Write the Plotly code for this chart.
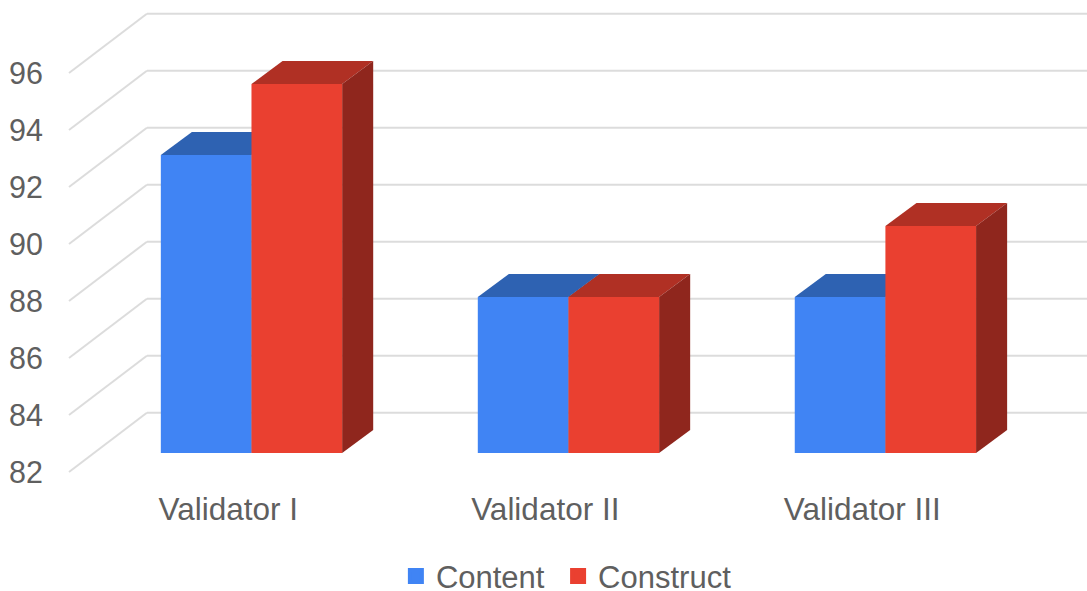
import plotly.graph_objects as go

# Chart data
validators = ["Validator I", "Validator II", "Validator III"]
content_scores = [92.5, 87.5, 87.5]
construct_scores = [95, 87.5, 90]
score_ticks = [82, 84, 86, 88, 90, 92, 94, 96]

# Colours: front face, top face, side face
CONTENT_FACES = ("#4084f4", "#2e62b2", "#24508f")
CONSTRUCT_FACES = ("#ea4030", "#b03024", "#8f261d")
GRID = "#dcdcdc"
TEXT = "#5f5f5f"
TRANSPARENT = "rgba(0,0,0,0)"

# Oblique projection, in axis units
BAR_DX, BAR_DY = 0.098, 0.81
WALL_LEFT, WALL_BACK, WALL_DY = -0.5757, -0.33, 2.08
BAR_W = 0.286
X_RANGE = [-0.6546, 2.636]
LABEL_SHIFT = -0.073


def poly(points):
    return "M" + " L".join(f"{x},{y}" for x, y in points) + " Z"


shapes = []

# Back wall and left wall gridlines
for t in score_ticks:
    back = t + WALL_DY
    shapes.append(dict(type="line", xref="x", yref="y", layer="below",
                       x0=WALL_LEFT, y0=t, x1=WALL_BACK, y1=back,
                       line=dict(color=GRID, width=2)))
    shapes.append(dict(type="line", xref="x", yref="y", layer="below",
                       x0=WALL_BACK, y0=back, x1=X_RANGE[1], y1=back,
                       line=dict(color=GRID, width=2)))


# Top and side faces of each bar, placed on the bar axis
def add_faces(values, offset, faces):
    for i, v in enumerate(values):
        x0 = i + offset
        x1 = x0 + BAR_W
        base = score_ticks[0]
        shapes.append(dict(type="path", xref="x", yref="y2", layer="below",
                           path=poly([(x0, v), (x1, v), (x1 + BAR_DX, v + BAR_DY), (x0 + BAR_DX, v + BAR_DY)]),
                           fillcolor=faces[1], line=dict(width=0)))
        shapes.append(dict(type="path", xref="x", yref="y2", layer="below",
                           path=poly([(x1, base), (x1 + BAR_DX, base + BAR_DY), (x1 + BAR_DX, v + BAR_DY), (x1, v)]),
                           fillcolor=faces[2], line=dict(width=0)))


add_faces(content_scores, -BAR_W, CONTENT_FACES)
add_faces(construct_scores, 0, CONSTRUCT_FACES)

positions = list(range(len(validators)))
fig = go.Figure()
# The no-break space after "Content" widens the gap between the legend entries
for name, label, values, faces in [("Content", "Content\u00a0", content_scores, CONTENT_FACES),
                                   ("Construct", "Construct", construct_scores, CONSTRUCT_FACES)]:
    fig.add_trace(go.Bar(
        name=name,
        x=positions,
        y=[v - score_ticks[0] for v in values],
        base=score_ticks[0],
        yaxis="y2",
        showlegend=False,
        marker=dict(color=faces[0], line=dict(width=0)),
    ))
    # Legend key only: a wider outline gives a larger swatch than the default
    fig.add_trace(go.Bar(
        name=label,
        x=[positions[0]],
        y=[None],
        yaxis="y",
        marker=dict(color=faces[0], line=dict(width=4, color=faces[0])),
    ))

fig.update_layout(
    width=1087,
    height=591,
    margin=dict(l=44, r=0, t=0, b=111),
    paper_bgcolor="white",
    plot_bgcolor="white",
    font=dict(family="Liberation Sans, Arial, sans-serif", size=31.5, color=TEXT),
    barmode="group",
    bargap=1 - 2 * BAR_W,
    bargroupgap=0,
    shapes=shapes,
    xaxis=dict(
        range=X_RANGE,
        tickmode="array",
        tickvals=[p + LABEL_SHIFT for p in positions],
        ticktext=validators,
        showgrid=False,
        zeroline=False,
        showline=False,
        ticks="outside",
        ticklen=1,
        tickcolor=TRANSPARENT,
    ),
    yaxis=dict(
        range=[81.72, 98.56],
        tickmode="array",
        tickvals=score_ticks,
        tickfont=dict(size=30.5),
        showgrid=False,
        zeroline=False,
        showline=False,
        ticks="",
    ),
    yaxis2=dict(
        range=[81.049, 97.963],
        overlaying="y",
        visible=False,
    ),
    legend=dict(
        orientation="h",
        xref="container",
        yref="container",
        x=0.3642,
        xanchor="left",
        y=0.025,
        yanchor="middle",
        font=dict(size=31, color=TEXT),
        itemclick=False,
        itemdoubleclick=False,
    ),
)

fig.write_html("out.html", config=dict(displayModeBar=False))
